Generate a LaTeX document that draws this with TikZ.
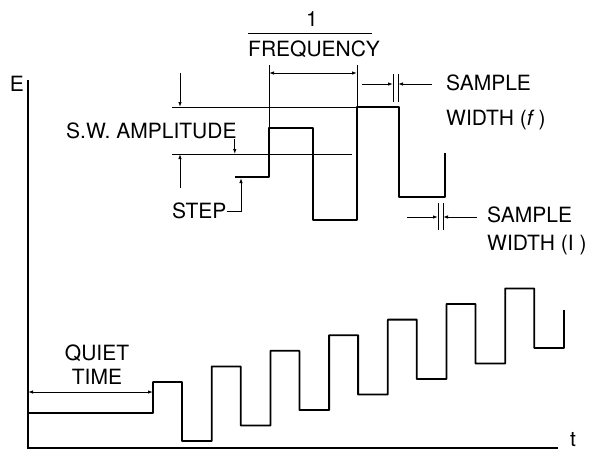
\documentclass[tikz,border=0pt]{standalone}
\usepackage{fontspec}
\setmainfont{TeX Gyre Heros}
\usepackage{tikz}
\usetikzlibrary{arrows.meta,positioning}

\begin{document}
\begin{tikzpicture}[x=1pt,y=-1pt, every node/.style={font=\fontsize{21}{24}\selectfont,inner sep=0pt},
  lbl/.style={anchor=west,align=left},
  wave/.style={line width=1.8pt,line join=round},
  thin/.style={line width=0.9pt},
  dim/.style={thin,-{Latex[length=5pt,width=3.5pt]}},
  dimboth/.style={thin,{Latex[length=5pt,width=3.5pt]}-{Latex[length=5pt,width=3.5pt]}}]
\useasboundingbox (0,0) rectangle (596,451);
% axes
\draw[line width=1.3pt] (28,80) -- (28,448) -- (558,448);
\node (E) at (17,84) {E};
\node (t) at (573,440) {t};
% staircase with square wave
\draw[wave] (28,413) -- (153,413)
  \foreach \k in {0,...,6}{ -- ({153+58.7*\k},{382-15.6*\k}) -- ({182+58.7*\k},{382-15.6*\k})
    -- ({182+58.7*\k},{441-15.5*\k}) -- ({211.7+58.7*\k},{441-15.5*\k}) } -- (563.9,310);
\node[align=center] (quiet) at (97,365) {QUIET\\TIME};
\draw[dimboth] (28,392) -- (153,392);
% detail of one step
\draw[wave,line width=1.5pt] (235,177) -- (269,177) -- (269,128) -- (313,128) -- (313,220) -- (357,220)
  -- (357,107) -- (399,107) -- (399,197) -- (445,197) -- (445,153);
\draw[thin] (172,107) -- (357,107);
\draw[thin] (172,154) -- (352,154);
\draw[thin] (269,65) -- (269,128);
\draw[thin] (357,65) -- (357,107);
\draw[dim] (180,73) -- (180,107);
\draw[dim] (180,188) -- (180,154);
\node[lbl] (swamp) at (66,131) {S.W. AMPLITUDE};
\draw[dim] ([xshift=-2pt]swamp.south east) -- ([xshift=-2pt]swamp.south east |- 0,154);
\node[lbl] (steplbl) at (172,211) {STEP};
\draw[dim] (steplbl.east) -| (241,178);
% period
\node (one) at (312,19) {1};
\node[lbl] (freq) at (248,49) {FREQUENCY};
\draw[thin] ([yshift=7pt]freq.north west) -- ([xshift=-8pt,yshift=7pt]freq.north east);
\draw[dimboth] (269,73) -- (357,73);
% sample widths
\draw[thin] (393,74) -- (393,102) (398,74) -- (398,102);
\draw[dim] (362,84) -- (393,84);
\draw[dim] (432,84) -- (398,84);
\node[lbl] (samp1) at (446,83) {SAMPLE};
\node[lbl] (wid1) at (446,120) {WIDTH ({\itshape f}\ )};
\draw[thin] (438,203) -- (438,230) (443,203) -- (443,230);
\draw[dim] (407,217) -- (438,217);
\draw[dim] (477,217) -- (443,217);
\node[lbl] (samp2) at (487,215) {SAMPLE};
\node[lbl] (wid2) at (487,245) {WIDTH (I\ )};
\end{tikzpicture}
\end{document}
